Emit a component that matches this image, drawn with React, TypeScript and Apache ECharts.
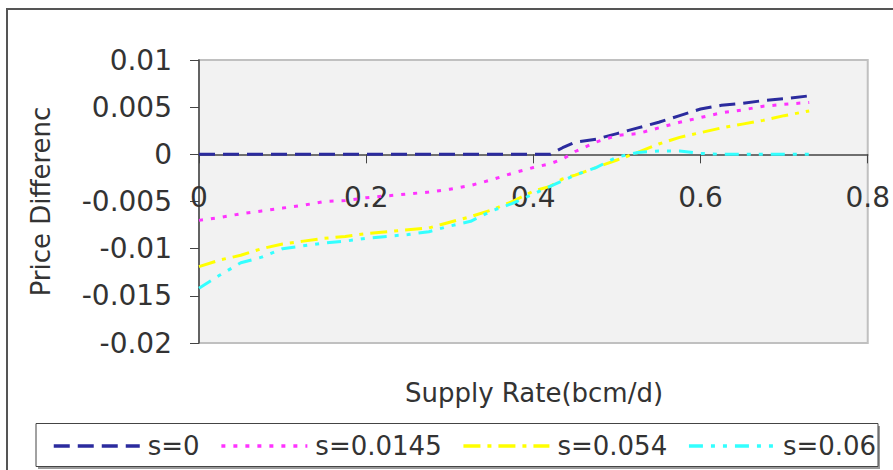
import React, { useEffect, useRef } from "react";
import * as echarts from "echarts";

const xValues = [
  0, 0.025, 0.05, 0.075, 0.1, 0.125, 0.15, 0.175, 0.2, 0.225, 0.25, 0.275, 0.3,
  0.325, 0.35, 0.375, 0.4, 0.42, 0.435, 0.45, 0.475, 0.5, 0.525, 0.55, 0.575,
  0.6, 0.625, 0.65, 0.675, 0.7, 0.73,
];
const s0 = [
  0, 0, 0, 0, 0, 0, 0, 0, 0, 0, 0, 0, 0, 0, 0, 0, 0, 0, 0.0007, 0.0013, 0.0016,
  0.0022, 0.0028, 0.0034, 0.0041, 0.0048, 0.0052, 0.0054, 0.0057, 0.0059, 0.0062,
];
const s00145 = [
  -0.007, -0.0067, -0.0063, -0.006, -0.0057, -0.0054, -0.005, -0.0049, -0.0046,
  -0.0044, -0.0042, -0.004, -0.0037, -0.0033, -0.0027, -0.002, -0.0014, -0.001,
  -0.0005, 0.0003, 0.0013, 0.002, 0.0022, 0.0028, 0.0034, 0.0039, 0.0044,
  0.0047, 0.0051, 0.0053, 0.0055,
];
const s0054 = [
  -0.0119, -0.0112, -0.0107, -0.01, -0.0095, -0.0092, -0.0089, -0.0087,
  -0.0084, -0.0082, -0.008, -0.0078, -0.0072, -0.0066, -0.0059, -0.005,
  -0.0039, -0.0034, -0.0026, -0.0022, -0.0014, -0.0006, 0.0002, 0.0011, 0.0018,
  0.0023, 0.0028, 0.0032, 0.0036, 0.0041, 0.0046,
];
const s006 = [
  -0.0142, -0.0128, -0.0115, -0.0109, -0.01, -0.0097, -0.0094, -0.0092,
  -0.0089, -0.0087, -0.0085, -0.0082, -0.0076, -0.0071, -0.006, -0.0052,
  -0.0042, -0.0034, -0.0028, -0.0022, -0.0014, -0.0003, 0.0002, 0.00035,
  0.00035, 0.0001, 0, 0, 0, 0, 0,
];
const seriesNames = ["s=0", "s=0.0145", "s=0.054", "s=0.06"];
const xAxisTitle = "Supply Rate(bcm/d)";
const yAxisTitle = "Price Differenc";

const FONT = "DejaVu Sans";
const GRID_TOP = 60;
const GRID_BOTTOM = 127;
const Y_MIN = -0.02;
const Y_MAX = 0.01;

export default function App() {
  const ref = useRef<HTMLDivElement>(null);
  useEffect(() => {
    if (!ref.current) return;
    const chart = echarts.init(ref.current, null, { renderer: "svg" });
    const zip = (ys: number[]) => xValues.map((x, i) => [x, ys[i]]);
    const styles = [
      { color: "#2b2b9e", type: [16, 8] },
      { color: "#ff33ff", type: [4, 8] },
      { color: "#ffff00", type: [17, 7, 4, 7] },
      { color: "#33ffff", type: [14, 8, 4, 8, 4, 8] },
    ];
    const datasets = [s0, s00145, s0054, s006];
    const plotH = 470 - GRID_TOP - GRID_BOTTOM;
    // distance from bottom of the grid up to the y=0 line
    const zeroOffset = (plotH * (0 - Y_MIN)) / (Y_MAX - Y_MIN);
    chart.setOption({
      animation: false,
      backgroundColor: "#ffffff",
      grid: {
        left: 199,
        top: GRID_TOP,
        right: 24,
        bottom: GRID_BOTTOM,
        show: true,
        backgroundColor: "#f2f2f2",
        borderColor: "#c0c0c0",
        borderWidth: 2,
      },
      xAxis: {
        type: "value",
        min: 0,
        max: 0.8,
        interval: 0.2,
        position: "bottom",
        offset: -zeroOffset,
        axisLine: { show: true, onZero: false, lineStyle: { color: "#444", width: 1.5 } },
        axisTick: { show: true, length: 9, lineStyle: { color: "#444" } },
        splitLine: { show: false },
        axisLabel: {
          margin: 29,
          fontFamily: FONT,
          fontSize: 28,
          color: "#333",
          formatter: (v: number) => String(parseFloat(v.toFixed(4))),
        },
      },
      yAxis: {
        type: "value",
        min: Y_MIN,
        max: Y_MAX,
        interval: 0.005,
        name: yAxisTitle,
        nameLocation: "middle",
        nameGap: 145,
        nameTextStyle: { fontFamily: FONT, fontSize: 26, color: "#333" },
        axisLine: { show: true, lineStyle: { color: "#444", width: 1.5 } },
        axisTick: { show: true, length: 9, lineStyle: { color: "#444" } },
        splitLine: { show: false },
        axisLabel: {
          margin: 27,
          fontFamily: FONT,
          fontSize: 28,
          color: "#333",
          formatter: (v: number) => String(parseFloat(v.toFixed(4))),
        },
      },
      legend: {
        left: 47,
        top: 428,
        itemWidth: 86,
        itemHeight: 14,
        itemGap: 20,
        itemStyle: { opacity: 0 },
        lineStyle: { width: 3.5 },
        textStyle: {
          fontFamily: FONT,
          fontSize: 26,
          color: "#333",
          padding: [0, 0, 0, 3],
        },
        data: seriesNames,
      },
      graphic: [
        {
          type: "rect",
          z: 0,
          shape: { x: 7, y: 9, width: 900, height: 480 },
          style: { fill: "none", stroke: "#555", lineWidth: 2 },
        },
        {
          type: "rect",
          z: 0,
          shape: { x: 38, y: 426, width: 842, height: 43 },
          style: { fill: "#9a9a9a" },
        },
        {
          type: "rect",
          z: 1,
          shape: { x: 36, y: 423.5, width: 842, height: 43 },
          style: { fill: "#ffffff", stroke: "#444", lineWidth: 1 },
        },
        {
          type: "text",
          x: 534,
          y: 393,
          style: {
            text: xAxisTitle,
            font: `26px "${FONT}"`,
            fill: "#333",
            align: "center",
            verticalAlign: "middle",
          },
        },
      ],
      series: datasets.map((d, i) => ({
        name: seriesNames[i],
        type: "line",
        data: zip(d),
        symbol: "none",
        smooth: false,
        itemStyle: { color: styles[i].color },
        lineStyle: { color: styles[i].color, width: 3, type: styles[i].type, cap: "butt" },
      })),
    });
    return () => chart.dispose();
  }, []);
  return (
    <div
      ref={ref}
      style={{ position: "absolute", left: 0, top: 0, width: 893, height: 470 }}
    />
  );
}
